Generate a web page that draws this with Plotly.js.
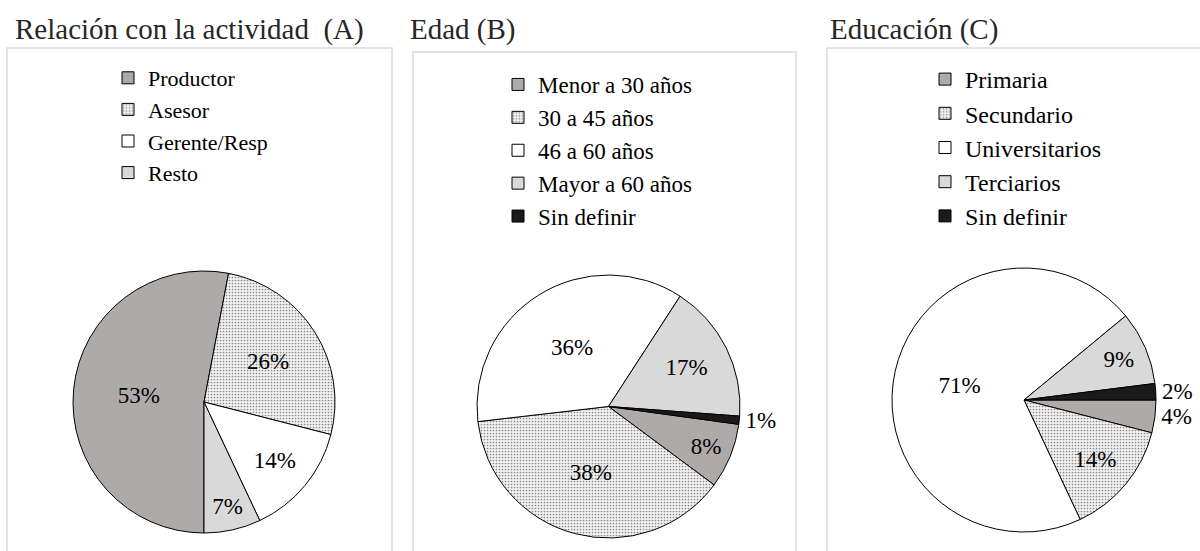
<!DOCTYPE html>
<html>
<head>
<meta charset="utf-8">
<script src="https://cdn.plot.ly/plotly-3.0.1.min.js"></script>
<style>html,body{margin:0;padding:0;background:#fff;}#chart{width:1200px;height:551px;}</style>
</head>
<body>
<div id="chart"></div>
<script>
// ---- Data ----
const titleA = "Relación con la actividad  (A)";
const labelsA = ["Productor", "Asesor", "Gerente/Resp", "Resto"];
const valuesA = [53, 26, 14, 7];

const titleB = "Edad (B)";
const labelsB = ["Menor a 30 años", "30 a 45 años", "46 a 60 años", "Mayor a 60 años", "Sin definir"];
const valuesB = [8, 38, 36, 17, 1];

const titleC = "Educación (C)";
const labelsC = ["Primaria", "Secundario", "Universitarios", "Terciarios", "Sin definir"];
const valuesC = [4, 14, 71, 9, 2];

// ---- Styles ----
const W = 1200, H = 551;
const FONT = "Liberation Serif";
const C_DARK = "#aeaaaa", C_LIGHT = "#d9d9d9", C_WHITE = "#ffffff", C_BLACK = "#1a1a1a";
const PAT = {shape: ".", fgcolor: "#8a8a8a", bgcolor: "#f2f2f2", size: 3, solidity: 0.25};
const NOPAT = {shape: ""};

const px = v => v / W;
const py = v => 1 - v / H;

// Pie legends merge identical labels across traces; a zero-width space keeps
// each chart's own legend entry while the visible text stays the same.
function uniq(labels, tag) {
  return labels.map(l => l + tag);
}

function pie(labels, values, colors, patterns, positions, dom, rot, legend) {
  return {
    type: "pie", labels: labels, values: values, sort: false,
    direction: "clockwise", rotation: rot,
    marker: {colors: colors, line: {color: "#000", width: 1}, pattern: {
      shape: patterns.map(p => p.shape), fgcolor: PAT.fgcolor, bgcolor: PAT.bgcolor, size: PAT.size, solidity: PAT.solidity}},
    textinfo: "percent", textposition: positions,
    insidetextorientation: "horizontal",
    textfont: {family: FONT, size: 23, color: "#000"},
    domain: dom, legend: legend, hoverinfo: "label+percent"
  };
}

const data = [
  pie(labelsA, valuesA, [C_DARK, "#ffffff", C_WHITE, C_LIGHT], [NOPAT, PAT, NOPAT, NOPAT],
      ["inside", "inside", "inside", "inside"],
      {x: [px(73), px(335)], y: [1 - 533 / H, 1 - 271 / H]}, 180, "legend"),
  pie(labelsB, valuesB, [C_DARK, "#ffffff", C_WHITE, C_LIGHT, C_BLACK], [NOPAT, PAT, NOPAT, NOPAT, NOPAT],
      ["inside", "inside", "inside", "inside", "outside"],
      {x: [px(477), px(740)], y: [1 - 538 / H, 1 - 275 / H]}, 97.8, "legend2"),
  pie(uniq(labelsC, "\u200B"), valuesC, [C_DARK, "#ffffff", C_WHITE, C_LIGHT, C_BLACK], [NOPAT, PAT, NOPAT, NOPAT, NOPAT],
      ["outside", "inside", "inside", "inside", "outside"],
      {x: [px(892), px(1156)], y: [1 - 532 / H, 1 - 268 / H]}, 90, "legend3")
];

function legendAt(x, y, size) {
  return {x: px(x), y: py(y), xanchor: "left", yanchor: "top", bgcolor: "rgba(0,0,0,0)",
          font: {family: FONT, size: size, color: "#000"}, traceorder: "normal", tracegroupgap: 0,
          maxheight: 400};
}

function box(x0, y0, x1, y1) {
  return {type: "rect", xref: "paper", yref: "paper", x0: px(x0), x1: px(x1), y0: py(y1), y1: py(y0),
          line: {color: "#d9d9d9", width: 1.5}, fillcolor: "rgba(0,0,0,0)", layer: "below"};
}

function title(text, x) {
  return {text: text, xref: "paper", yref: "paper", x: px(x), y: py(30), xanchor: "left", yanchor: "middle",
          showarrow: false, font: {family: FONT, size: 29, color: "#262626"}};
}

const layout = {
  width: W, height: H, margin: {l: 0, r: 0, t: 0, b: 0},
  paper_bgcolor: "#fff", plot_bgcolor: "#fff", showlegend: true,
  legend: legendAt(108, 57, 22),
  legend2: legendAt(498, 63, 23),
  legend3: legendAt(925, 57, 24),
  shapes: [box(7, 48, 392, 560), box(413, 52, 796, 560), box(827, 48, 1210, 560)],
  annotations: [title(titleA, 13), title(titleB, 408), title(titleC, 828)]
};

Plotly.newPlot("chart", data, layout, {displayModeBar: false, staticPlot: true});
</script>
</body>
</html>
